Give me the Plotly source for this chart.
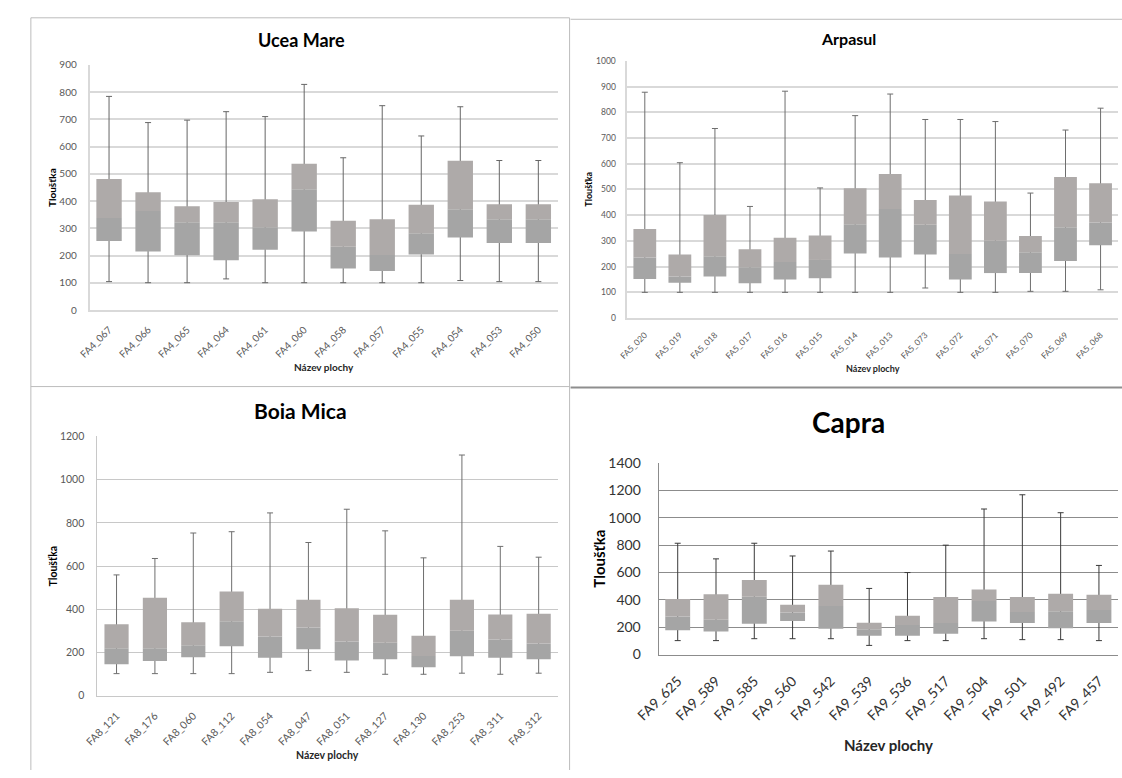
import plotly.graph_objects as go

W, H = 1122, 778

# ---- Ucea Mare -------------------------------------------------------------
ucea_sites = ["FA4_067", "FA4_066", "FA4_065", "FA4_064", "FA4_061", "FA4_060",
              "FA4_058", "FA4_057", "FA4_055", "FA4_054", "FA4_053", "FA4_050"]
ucea_min = [105, 101, 101, 115, 101, 101, 101, 101, 101, 109, 105, 105]
ucea_q1 = [254, 215, 202, 183, 222, 289, 153, 144, 204, 267, 247, 247]
ucea_med = [338, 364, 323, 323, 304, 444, 233, 203, 282, 370, 334, 334]
ucea_q3 = [481, 433, 381, 397, 407, 537, 328, 334, 387, 548, 389, 389]
ucea_max = [784, 688, 697, 728, 710, 828, 559, 750, 639, 746, 549, 549]

# ---- Arpasul ---------------------------------------------------------------
arp_sites = ["FA5_020", "FA5_019", "FA5_018", "FA5_017", "FA5_016", "FA5_015", "FA5_014",
             "FA5_013", "FA5_073", "FA5_072", "FA5_071", "FA5_070", "FA5_069", "FA5_068"]
arp_min = [100, 100, 100, 100, 100, 100, 100, 100, 117, 100, 100, 104, 104, 110]
arp_q1 = [152, 137, 162, 135, 150, 155, 251, 236, 247, 150, 175, 175, 222, 283]
arp_med = [236, 162, 240, 198, 218, 226, 365, 424, 363, 249, 301, 256, 353, 372]
arp_q3 = [346, 247, 401, 268, 312, 321, 505, 560, 459, 477, 453, 319, 548, 524]
arp_max = [878, 604, 737, 434, 882, 506, 787, 871, 772, 772, 764, 486, 731, 816]

# ---- Boia Mica -------------------------------------------------------------
boia_sites = ["FA8_121", "FA8_176", "FA8_060", "FA8_112", "FA8_054", "FA8_047",
              "FA8_051", "FA8_127", "FA8_130", "FA8_253", "FA8_311", "FA8_312"]
boia_min = [102, 102, 102, 102, 108, 116, 108, 99, 99, 104, 99, 104]
boia_q1 = [145, 160, 178, 229, 176, 215, 163, 169, 132, 182, 176, 169]
boia_med = [220, 220, 233, 345, 274, 315, 251, 245, 184, 301, 260, 242]
boia_q3 = [331, 453, 340, 482, 402, 444, 405, 375, 277, 444, 376, 379]
boia_max = [559, 635, 753, 759, 846, 709, 863, 763, 638, 1114, 691, 641]

# ---- Capra -----------------------------------------------------------------
capra_sites = ["FA9_625", "FA9_589", "FA9_585", "FA9_560", "FA9_542", "FA9_539",
               "FA9_536", "FA9_517", "FA9_504", "FA9_501", "FA9_492", "FA9_457"]
capra_min = [102, 102, 116, 116, 116, 67, 102, 102, 116, 109, 109, 102]
capra_q1 = [178, 169, 226, 245, 188, 138, 138, 152, 242, 231, 193, 231]
capra_med = [278, 254, 423, 307, 354, 185, 216, 231, 392, 311, 316, 326]
capra_q3 = [406, 440, 544, 364, 509, 233, 283, 421, 475, 421, 444, 437]
capra_max = [813, 699, 813, 720, 756, 483, 599, 799, 1063, 1167, 1036, 651]

FONT = "Lato"
LOWER = "#a5a5a5"   # Q1 -> median
UPPER = "#aeaaa9"   # median -> Q3

panels = [
    dict(title="Ucea Mare", sites=ucea_sites, lo=ucea_min, q1=ucea_q1, med=ucea_med,
         q3=ucea_q3, hi=ucea_max, x0=66, x1=545, ytop=57, ybot=308, ymax=900, dtick=100,
         tick=10, ttl=18, ttl_xy=(283, 32), ax=10, ytitle_x=27, xtitle_y=366,
         grid="#d9d9d9", gw=1.5, bw=0.65, ystand=9, xstand=8,
         tickcolor="#595959", whisker="#666666"),
    dict(title="Arpasul", sites=arp_sites, lo=arp_min, q1=arp_q1, med=arp_med,
         q3=arp_q3, hi=arp_max, x0=616, x1=1118, ytop=53, ybot=316, ymax=1000, dtick=100,
         tick=8.5, ttl=16, ttl_xy=(842, 30), ax=9, ytitle_x=576, xtitle_y=368,
         grid="#d9d9d9", gw=1.5, bw=0.65, ystand=8, xstand=7,
         tickcolor="#595959", whisker="#6e6e6e"),
    dict(title="Boia Mica", sites=boia_sites, lo=boia_min, q1=boia_q1, med=boia_med,
         q3=boia_q3, hi=boia_max, x0=74, x1=545, ytop=437, ybot=702, ymax=1200, dtick=200,
         tick=10.5, ttl=21, ttl_xy=(282, 410), ax=10.5, ytitle_x=29, xtitle_y=763,
         grid="#c8c8c8", gw=1, bw=0.63, ystand=10, xstand=9,
         tickcolor="#595959", whisker="#6e6e6e"),
    dict(title="Capra", sites=capra_sites, lo=capra_min, q1=capra_q1, med=capra_med,
         q3=capra_q3, hi=capra_max, x0=648, x1=1118, ytop=464, ybot=660, ymax=1400, dtick=200,
         tick=14, ttl=28, ttl_xy=(842, 422), ax=15, ytitle_x=587, xtitle_y=752,
         grid="#8c8c8c", gw=1, bw=0.65, ystand=14, xstand=12,
         tickcolor="#333333", whisker="#3a3a3a"),
]

fig = go.Figure()
annotations = []

for i, p in enumerate(panels, start=1):
    xa = "x" if i == 1 else f"x{i}"
    ya = "y" if i == 1 else f"y{i}"
    n = len(p["sites"])
    lower_h = [m - a for m, a in zip(p["med"], p["q1"])]
    upper_h = [b - m for b, m in zip(p["q3"], p["med"])]
    up_err = [h - m for h, m in zip(p["hi"], p["med"])]
    dn_err = [m - l for m, l in zip(p["med"], p["lo"])]

    # whiskers (min..max), drawn first so the boxes cover the middle part
    fig.add_trace(go.Bar(
        x=p["sites"], y=p["med"], width=p["bw"], xaxis=xa, yaxis=ya,
        marker=dict(color="rgba(0,0,0,0)", line=dict(width=0)),
        error_y=dict(type="data", symmetric=False, array=up_err, arrayminus=dn_err,
                     color=p["whisker"], thickness=1, width=3),
        showlegend=False, hoverinfo="skip"))
    # lower half of the box
    fig.add_trace(go.Bar(
        x=p["sites"], y=lower_h, base=p["q1"], width=p["bw"], xaxis=xa, yaxis=ya,
        marker=dict(color=LOWER, line=dict(width=0)),
        showlegend=False))
    # upper half of the box
    fig.add_trace(go.Bar(
        x=p["sites"], y=upper_h, base=p["med"], width=p["bw"], xaxis=xa, yaxis=ya,
        marker=dict(color=UPPER, line=dict(width=0)),
        showlegend=False))

    xkey = "xaxis" if i == 1 else f"xaxis{i}"
    ykey = "yaxis" if i == 1 else f"yaxis{i}"
    fig.update_layout(**{
        xkey: dict(domain=[p["x0"] / W, p["x1"] / W], anchor=ya, type="category",
                   range=[-0.5, n - 0.5], showgrid=False, zeroline=False,
                   showline=True, linecolor=p["grid"], linewidth=p["gw"],
                   ticks="outside", ticklen=p["xstand"], tickcolor="rgba(0,0,0,0)",
                   tickangle=-45,
                   tickfont=dict(family=FONT, size=p["tick"], color=p["tickcolor"]),
                   fixedrange=True),
        ykey: dict(domain=[1 - p["ybot"] / H, 1 - p["ytop"] / H], anchor=xa,
                   range=[0, p["ymax"]], dtick=p["dtick"], showgrid=True,
                   gridcolor=p["grid"], gridwidth=p["gw"], zeroline=False,
                   showline=True, linecolor=p["grid"], linewidth=p["gw"],
                   ticks="outside", ticklen=p["ystand"], tickcolor="rgba(0,0,0,0)",
                   tickfont=dict(family=FONT, size=p["tick"], color=p["tickcolor"]),
                   fixedrange=True),
    })

    tx, ty = p["ttl_xy"]
    annotations.append(dict(text=f"<b>{p['title']}</b>", x=tx / W, y=1 - ty / H,
                            xref="paper", yref="paper", showarrow=False,
                            xanchor="center", yanchor="middle",
                            font=dict(family=FONT, size=p["ttl"], color="#000000")))
    annotations.append(dict(text="<b>Tloušťka</b>", x=p["ytitle_x"] / W,
                            y=1 - (p["ytop"] + p["ybot"]) / 2 / H,
                            xref="paper", yref="paper", showarrow=False, textangle=-90,
                            xanchor="center", yanchor="middle",
                            font=dict(family=FONT, size=p["ax"], color="#000000")))
    annotations.append(dict(text="<b>Název plochy</b>", x=(p["x0"] + p["x1"]) / 2 / W,
                            y=1 - p["xtitle_y"] / H,
                            xref="paper", yref="paper", showarrow=False,
                            xanchor="center", yanchor="middle",
                            font=dict(family=FONT, size=p["ax"], color="#262626")))

# chart frames around the four panels
BORDER = "#bcbcbc"
line = lambda x0, y0, x1, y1, c=BORDER, w=1: dict(
    type="line", xref="paper", yref="paper", x0=x0 / W, y0=1 - y0 / H,
    x1=x1 / W, y1=1 - y1 / H, line=dict(color=c, width=w))
shapes = [
    line(6, 9, 557, 9),
    line(6, 9, 6, H),
    line(557, 9, 557, H),
    line(558, 10.5, W, 10.5),
    line(6, 386, 557, 386),
    line(558, 387, W, 387, "#8e8e8e", 2),
]

fig.update_layout(
    width=W, height=H, margin=dict(l=0, r=0, t=0, b=0),
    paper_bgcolor="#ffffff", plot_bgcolor="#ffffff",
    barmode="overlay", showlegend=False,
    annotations=annotations, shapes=shapes,
    font=dict(family=FONT),
)

fig.write_html("out.html", post_script="document.body.style.margin='0';")
